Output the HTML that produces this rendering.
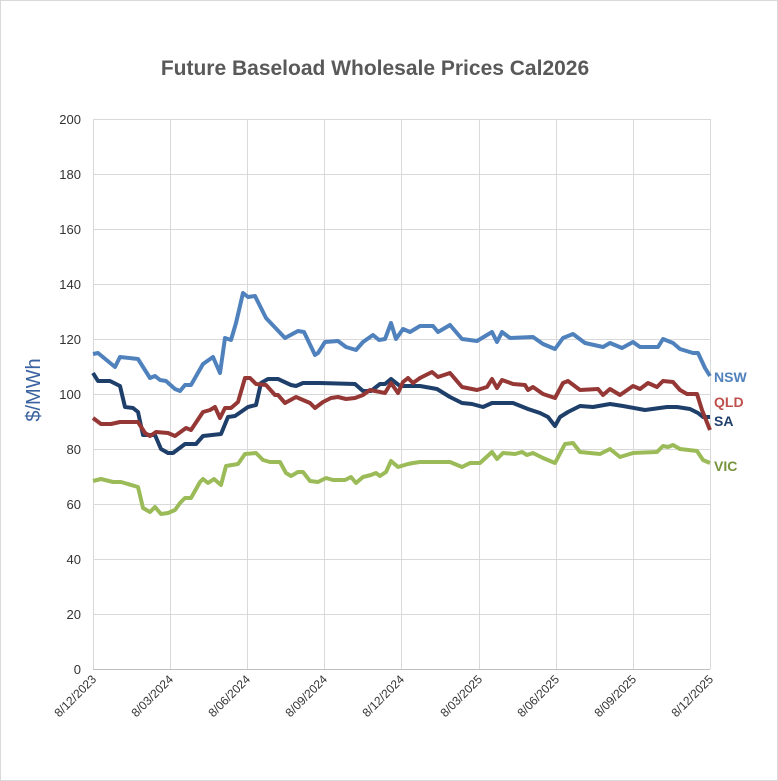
<!DOCTYPE html>
<html><head><meta charset="utf-8"><style>
body{margin:0;background:#fff}
svg{display:block;font-family:"Liberation Sans",sans-serif}
</style></head><body>
<svg width="778" height="781" viewBox="0 0 778 781">
<rect x="0.5" y="0.5" width="777" height="780" fill="#fff" stroke="#d9d9d9"/>
<text x="375" y="75" text-anchor="middle" font-size="21" font-weight="bold" fill="#595959">Future Baseload Wholesale Prices Cal2026</text>
<g stroke="#d9d9d9" stroke-width="1">
<line x1="93" y1="119.5" x2="710" y2="119.5"/><line x1="93" y1="174.5" x2="710" y2="174.5"/><line x1="93" y1="229.5" x2="710" y2="229.5"/><line x1="93" y1="284.5" x2="710" y2="284.5"/><line x1="93" y1="339.5" x2="710" y2="339.5"/><line x1="93" y1="394.5" x2="710" y2="394.5"/><line x1="93" y1="449.5" x2="710" y2="449.5"/><line x1="93" y1="504.5" x2="710" y2="504.5"/><line x1="93" y1="559.5" x2="710" y2="559.5"/><line x1="93" y1="614.5" x2="710" y2="614.5"/>
<line x1="93.5" y1="119" x2="93.5" y2="669"/><line x1="170.5" y1="119" x2="170.5" y2="669"/><line x1="247.5" y1="119" x2="247.5" y2="669"/><line x1="324.5" y1="119" x2="324.5" y2="669"/><line x1="401.5" y1="119" x2="401.5" y2="669"/><line x1="479.5" y1="119" x2="479.5" y2="669"/><line x1="556.5" y1="119" x2="556.5" y2="669"/><line x1="633.5" y1="119" x2="633.5" y2="669"/><line x1="710.5" y1="119" x2="710.5" y2="669"/>
</g>
<line x1="93" y1="669.5" x2="710" y2="669.5" stroke="#bfbfbf"/>
<g font-size="13" fill="#333" text-anchor="end">
<text x="81" y="124">200</text><text x="81" y="179">180</text><text x="81" y="234">160</text><text x="81" y="289">140</text><text x="81" y="344">120</text><text x="81" y="399">100</text><text x="81" y="454">80</text><text x="81" y="509">60</text><text x="81" y="564">40</text><text x="81" y="619">20</text><text x="81" y="674">0</text>
</g>
<g font-size="12" fill="#333" text-anchor="end">
<text transform="translate(97,680) rotate(-45)">8/12/2023</text>
<text transform="translate(174,680) rotate(-45)">8/03/2024</text>
<text transform="translate(251,680) rotate(-45)">8/06/2024</text>
<text transform="translate(328,680) rotate(-45)">8/09/2024</text>
<text transform="translate(405,680) rotate(-45)">8/12/2024</text>
<text transform="translate(483,680) rotate(-45)">8/03/2025</text>
<text transform="translate(560,680) rotate(-45)">8/06/2025</text>
<text transform="translate(637,680) rotate(-45)">8/09/2025</text>
<text transform="translate(714,680) rotate(-45)">8/12/2025</text>
</g>
<text transform="translate(40,390) rotate(-90)" text-anchor="middle" font-size="20" fill="#3a62a0">$/MWh</text>
<g fill="none" stroke-width="4" stroke-linejoin="round">
<polyline stroke="#9bbb59" points="93,481 101,479 113,482 121,482 138,487 143,508 150,512 155,507 161,514 168,513 175,510 180,503 185,498 191,498 200,482 203,479 208,483 214,479 221,485 226,466 238,464 245,454 256,453 263,460 270,462 280,462 286,473 291,476 298,472 303,472 310,481 318,482 326,478 333,480 345,480 351,477 356,483 363,477 371,475 376,473 380,476 386,472 391,461 398,467 408,464 413,463 420,462 450,462 462,467 470,463 480,463 492,452 497,459 503,453 515,454 522,452 527,455 533,453 543,458 555,463 565,444 573,443 580,452 600,454 610,449 620,457 633,453 657,452 663,446 668,447 673,445 680,449 697,451 703,460 710,463"/>
<polyline stroke="#1f3f6b" points="93,373 98,381 110,381 120,386 125,407 133,408 138,412 143,435 155,435 161,449 168,453 173,453 185,444 196,444 203,436 221,434 228,417 235,416 248,407 256,405 261,383 268,379 278,379 291,385 296,386 303,383 320,383 355,384 363,391 371,391 380,384 385,384 391,379 400,386 420,386 437,389 450,397 462,403 472,404 483,407 492,403 513,403 528,409 540,413 548,417 555,426 560,417 568,412 580,406 593,407 610,404 623,406 645,410 667,407 677,407 690,409 698,413 703,417 710,417"/>
<polyline stroke="#953735" points="93,418 101,424 111,424 120,422 138,422 145,433 150,436 156,432 168,433 175,436 186,428 191,430 203,412 210,410 215,407 220,418 225,408 231,408 238,402 245,378 250,378 256,384 266,385 275,395 278,395 285,403 296,397 310,403 315,408 323,402 331,398 338,397 346,399 355,398 363,395 370,390 380,392 385,393 391,383 398,393 403,382 408,378 413,383 420,378 432,372 438,377 450,373 462,387 477,390 487,387 492,379 497,388 502,380 513,384 525,385 528,390 533,387 543,394 555,398 563,383 568,381 580,390 598,389 603,395 610,389 620,395 633,386 640,389 648,383 657,387 663,381 673,382 680,390 687,394 697,394 702,410 710,430"/>
<polyline stroke="#4f81bd" points="93,354 98,353 115,367 120,357 138,359 150,378 155,376 160,380 166,381 175,389 180,391 185,385 191,385 203,364 213,357 220,373 225,338 231,340 236,323 243,293 248,297 255,296 266,318 285,338 298,331 304,332 315,355 318,353 325,342 338,341 346,347 356,350 363,342 373,335 379,340 385,339 391,323 396,339 403,329 410,332 420,326 433,326 438,332 450,325 462,339 477,341 492,332 497,342 502,332 510,338 533,337 543,344 555,349 563,338 573,334 585,343 603,347 610,343 622,348 633,342 640,347 658,347 663,339 673,343 680,349 693,353 698,353 705,368 710,376"/>
</g>
<g font-size="14" font-weight="bold">
<text x="714" y="382" fill="#4f81bd">NSW</text>
<text x="714" y="407" fill="#c0504d">QLD</text>
<text x="714" y="426" fill="#1f3f6b">SA</text>
<text x="714" y="471" fill="#77933c">VIC</text>
</g>
</svg>
</body></html>
